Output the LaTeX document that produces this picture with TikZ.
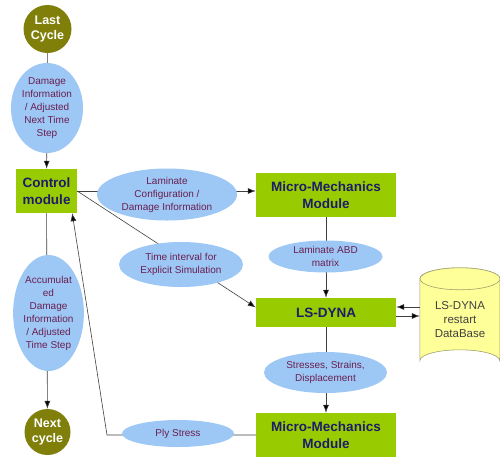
\documentclass[tikz,border=0pt]{standalone}
\usepackage{fontspec}
\setmainfont{Liberation Sans}
\usetikzlibrary{shapes.geometric,backgrounds,arrows.meta}
\definecolor{olivec}{HTML}{7F7F0A}
\definecolor{ellc}{HTML}{9DC8F5}
\definecolor{ellt}{HTML}{6A1E50}
\definecolor{boxc}{HTML}{99CC00}
\definecolor{boxt}{HTML}{1C1C6A}
\definecolor{cylc}{HTML}{FFFF99}
\definecolor{cylb}{HTML}{A0A070}
\definecolor{linec}{HTML}{404040}
\begin{document}
\begin{tikzpicture}[x=1pt,y=-1pt,
  cyc/.style={circle,fill=olivec,text=white,font=\fontsize{12.5}{14.5}\selectfont\bfseries,align=center,inner sep=0pt,minimum size=#1},
  ell/.style={ellipse,fill=ellc,text=ellt,font=\fontsize{10}{13}\selectfont,align=center,inner sep=0pt},
  mod/.style={rectangle,fill=boxc,text=boxt,font=\fontsize{13.5}{17}\selectfont\bfseries,align=center,inner sep=0pt},
  conn/.style={draw=linec,line width=0.6pt},
  arr/.style={conn,-{Latex[length=8pt,width=6pt,fill=black]}}]
\useasboundingbox (0,0) rectangle (500,459);
\node[cyc=48pt] (LC) at (47.5,29) {Last\\Cycle};
\node[ell,minimum width=72pt,minimum height=90pt] (DI) at (47,108) {Damage\\Information\\/ Adjusted\\Next Time\\Step};
\node[mod,minimum width=61pt,minimum height=44pt] (CM) at (46.5,191) {Control\\module};
\node[ell,minimum width=61pt,minimum height=116pt] (AD) at (48.5,313) {Accumulat\\ed\\Damage\\Information\\/ Adjusted\\Time Step};
\node[cyc=46pt] (NC) at (47.5,432) {Next\\cycle};
\node[ell,minimum width=140pt,minimum height=52pt] (LCD) at (167,194.5) {Laminate\\Configuration /\\Damage Information};
\node[mod,minimum width=140pt,minimum height=44pt] (MM1) at (326,195) {Micro-Mechanics\\Module};
\node[ell,minimum width=114pt,minimum height=32pt] (ABD) at (325.5,256.5) {Laminate ABD\\matrix};
\node[ell,minimum width=124pt,minimum height=45pt] (TI) at (181,264.5) {Time interval for\\Explicit Simulation};
\node[mod,minimum width=140pt,minimum height=29pt] (LS) at (326,312.5) {LS-DYNA};
\node[ell,minimum width=123pt,minimum height=41pt] (SSD) at (325.5,372.5) {Stresses, Strains,\\Displacement};
\node[mod,minimum width=140pt,minimum height=44pt] (MM2) at (326,435) {Micro-Mechanics\\Module};
\node[ell,minimum width=112pt,minimum height=27pt] (PS) at (178,433.5) {Ply Stress};
% database cylinder
\node[font=\fontsize{11.5}{14}\selectfont,text=black!75,align=center,minimum width=80pt,minimum height=104pt,inner sep=0pt] (DB) at (460,320) {LS-DYNA\\restart\\DataBase};
\begin{scope}[on background layer]
\draw[draw=cylb,fill=cylc,line width=0.6pt] (DB.north west) ++(0,11) arc[x radius=40,y radius=11,start angle=180,end angle=360]
  -- ++(0,82) arc[x radius=40,y radius=11,start angle=0,end angle=-180] -- cycle;
\draw[draw=cylb,fill=cylc,line width=0.6pt] (DB.north) ++(0,11) ellipse[x radius=40,y radius=11];
\draw[arr] (LC) -- (CM);
\draw[arr] (CM) -- (NC);
\draw[arr] (CM.east) -- (MM1.west |- CM.east);
\draw[arr] (CM.east) -- ([yshift=5pt]LS.west);
\draw[arr] (MM1) -- (LS);
\draw[arr] (LS) -- (MM2);
\coordinate (corner) at (107,435);
\draw[arr] (MM2.west) -- (corner) -- ([xshift=-5pt]CM.south east);
\draw[arr] (DB.west |- 0,307) -- (LS.east |- 0,307);
\draw[arr] (LS.east |- 0,316) -- (DB.west |- 0,316);
\end{scope}
\end{tikzpicture}
\end{document}
